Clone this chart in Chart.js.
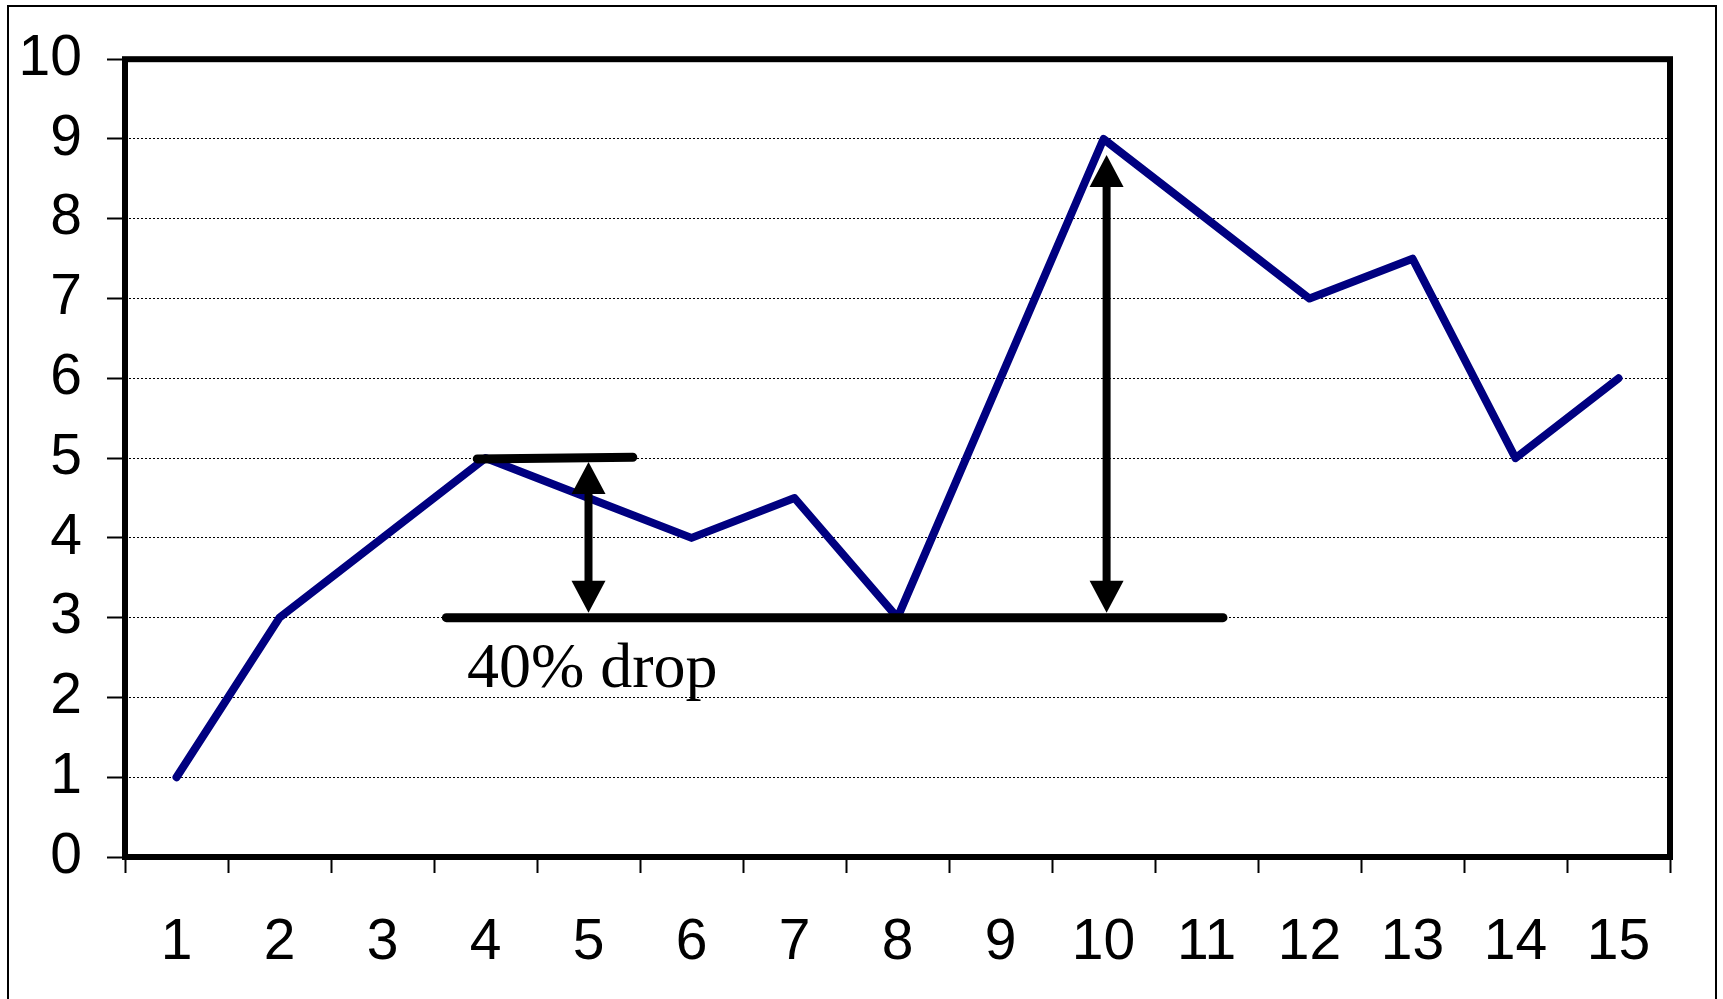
<!DOCTYPE html>
<html>
<head>
<meta charset="utf-8">
<title>Drawdown</title>
<script src="https://cdn.jsdelivr.net/npm/chart.js@4/dist/chart.umd.min.js"></script>
<style>
  html, body { margin: 0; padding: 0; background: #ffffff; }
  #wrap { width: 1723px; height: 999px; position: relative; }
</style>
</head>
<body>
<div id="wrap"><canvas id="c" width="1723" height="999"></canvas></div>
<script>
// Periods along the x axis
const periods = ['1','2','3','4','5','6','7','8','9','10','11','12','13','14','15'];
// Price series
const prices = [1, 3, 4, 5, 4.5, 4, 4.5, 3, 6, 9, 8, 7, 7.5, 5, 6];
// Value axis ticks
const yTicks = [0, 1, 2, 3, 4, 5, 6, 7, 8, 9, 10];

// Annotation geometry in data units (x = category index, y = value)
const peakLine = [[2.92, 4.99], [4.43, 5.01]];
const troughLine = [[2.62, 3.0], [10.16, 3.0]];
const dropArrow = [[4.0, 4.95], [4.0, 3.06]];
const riseArrow = [[9.03, 8.80], [9.03, 3.06]];
const dropLabel = { text: '40% drop', x: 2.82, y: 2.13 };

const FONT = '"Liberation Sans", Arial, sans-serif';

function arrowHead(ctx, x, tipY, dir) {
  // dir = -1 points up, +1 points down
  const w = 17, h = 32;
  ctx.beginPath();
  ctx.moveTo(x, tipY);
  ctx.lineTo(x - w, tipY - dir * h);
  ctx.lineTo(x + w, tipY - dir * h);
  ctx.closePath();
  ctx.fill();
}

const framePlugin = {
  id: 'frame',
  beforeDraw(chart) {
    const ctx = chart.ctx;
    ctx.save();
    ctx.fillStyle = '#ffffff';
    ctx.fillRect(0, 0, chart.width, chart.height);
    ctx.strokeStyle = '#000000';
    ctx.lineWidth = 2;
    ctx.strokeRect(8, 6, 1708, 1010);
    ctx.restore();
  },
  afterDatasetsDraw(chart) {
    const ctx = chart.ctx;
    const xs = chart.scales.x, ys = chart.scales.y;
    const px = v => xs.getPixelForValue(v);
    const py = v => ys.getPixelForValue(v);
    ctx.save();
    ctx.strokeStyle = '#000000';
    ctx.fillStyle = '#000000';
    ctx.lineCap = 'round';

    // Horizontal reference lines
    ctx.lineWidth = 9;
    [peakLine, troughLine].forEach(seg => {
      ctx.beginPath();
      ctx.moveTo(px(seg[0][0]), py(seg[0][1]));
      ctx.lineTo(px(seg[1][0]), py(seg[1][1]));
      ctx.stroke();
    });

    // Double-headed arrows
    ctx.lineCap = 'butt';
    [dropArrow, riseArrow].forEach(seg => {
      const x = px(seg[0][0]);
      const yTop = py(seg[0][1]);
      const yBot = py(seg[1][1]);
      ctx.lineWidth = 8;
      ctx.beginPath();
      ctx.moveTo(x, yTop + 20);
      ctx.lineTo(x, yBot - 20);
      ctx.stroke();
      arrowHead(ctx, x, yTop, -1);
      arrowHead(ctx, x, yBot, 1);
    });

    // Label
    ctx.font = '64px "Liberation Serif", "Times New Roman", serif';
    ctx.textAlign = 'left';
    ctx.textBaseline = 'alphabetic';
    ctx.fillText(dropLabel.text, px(dropLabel.x), py(dropLabel.y));

    // Plot area border
    const a = chart.chartArea;
    ctx.lineWidth = 6;
    ctx.lineCap = 'butt';
    ctx.lineJoin = 'miter';
    ctx.strokeRect(a.left, a.top, a.right - a.left, a.bottom - a.top);
    ctx.restore();
  }
};

new Chart(document.getElementById('c'), {
  type: 'line',
  data: {
    labels: periods,
    datasets: [{
      data: prices,
      borderColor: '#000080',
      borderWidth: 8,
      tension: 0,
      pointRadius: 0,
      pointHoverRadius: 0,
      borderCapStyle: 'round',
      borderJoinStyle: 'round',
      fill: false
    }]
  },
  options: {
    responsive: false,
    animation: false,
    events: [],
    layout: { padding: { left: 0, top: 59, right: 53, bottom: 0 } },
    plugins: { legend: { display: false }, tooltip: { enabled: false } },
    scales: {
      x: {
        type: 'category',
        offset: true,
        grid: {
          offset: true,
          drawOnChartArea: false,
          drawTicks: true,
          tickLength: 16,
          tickWidth: 2,
          tickColor: '#000000',
          color: '#000000'
        },
        border: { display: false },
        ticks: {
          color: '#000000',
          font: { family: FONT, size: 57 },
          padding: 36,
          autoSkip: false,
          maxRotation: 0,
          minRotation: 0
        },
        afterFit(scale) { scale.height = 142; }
      },
      y: {
        min: 0,
        max: 10,
        afterBuildTicks(scale) { scale.ticks = yTicks.map(v => ({ value: v })); },
        grid: {
          color: '#000000',
          lineWidth: 1,
          tickLength: 18,
          tickWidth: 2,
          tickColor: '#000000',
          drawTicks: true
        },
        border: { display: false, dash: [2, 2] },
        ticks: {
          color: '#000000',
          font: { family: FONT, size: 57 },
          padding: 25
        },
        afterFit(scale) { scale.width = 125; }
      }
    }
  },
  plugins: [framePlugin]
});
</script>
</body>
</html>
